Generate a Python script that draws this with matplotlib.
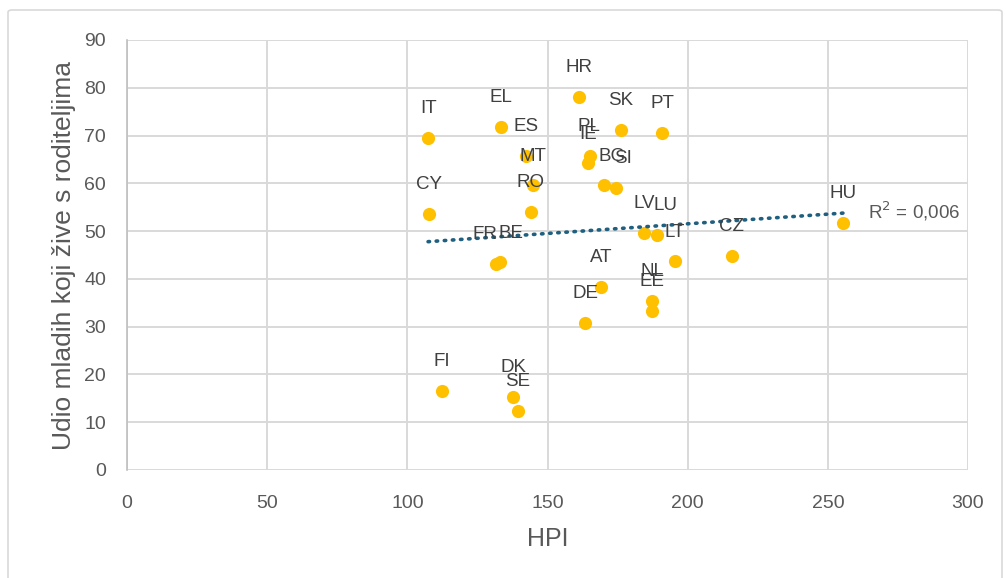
import numpy as np
import matplotlib
matplotlib.use("Agg")
import matplotlib.pyplot as plt
from matplotlib.patches import FancyBboxPatch

plt.rcParams['font.family'] = ['Liberation Sans', 'DejaVu Sans']

countries = ["IT", "EL", "ES", "MT", "RO", "HR", "SK", "PT", "PL", "IE", "BG", "SI",
             "CY", "LV", "LU", "LT", "FR", "BE", "AT", "DE", "NL", "EE", "CZ", "HU",
             "FI", "DK", "SE"]
hpi = [107.4, 133.4, 142.4, 144.8, 144.1, 161.2, 176.2, 190.9, 165.2, 164.5, 170.2, 174.5,
       107.7, 184.5, 189.1, 195.5, 131.8, 133.1, 169.1, 163.4, 187.3, 187.3, 215.8, 255.4,
       112.3, 137.7, 139.5]
share = [69.5, 71.8, 65.7, 59.6, 54.0, 78.1, 71.2, 70.5, 65.7, 64.2, 59.6, 59.0,
         53.6, 49.6, 49.2, 43.7, 43.2, 43.5, 38.3, 30.8, 35.4, 33.3, 44.8, 51.7,
         16.6, 15.3, 12.4]
r2_text = "R$^2$ = 0,006"
x_ticks = [0, 50, 100, 150, 200, 250, 300]
y_ticks = [0, 10, 20, 30, 40, 50, 60, 70, 80, 90]

# small horizontal nudges (in points) for labels that were moved in the original
label_dx = {"FR": -8, "BE": 7.5, "BG": 6, "SI": 5, "LU": 6, "PL": -1}

fig = plt.figure(figsize=(10.06, 5.78), dpi=100)
ax = fig.add_axes([127/1006, 1 - 470/578, (968-127)/1006, (470-40)/578])

# figure border
border = FancyBboxPatch((8/1006, -0.05), (1002-8)/1006, 1 - 10/578 + 0.05,
                        boxstyle="round,pad=0,rounding_size=0.004",
                        transform=fig.transFigure, fill=False,
                        edgecolor="#d9d9d9", linewidth=1.2, zorder=0)
fig.patches.append(border)

ax.set_xlim(0, 300)
ax.set_ylim(0, 90)
ax.set_xticks(x_ticks)
ax.set_yticks(y_ticks)
ax.grid(True, color="#d9d9d9", linewidth=1.4)
ax.set_axisbelow(True)
for s in ["top", "right", "bottom"]:
    ax.spines[s].set_visible(False)
ax.spines["left"].set_color("#bfbfbf")
ax.spines["left"].set_linewidth(1.2)
ax.tick_params(length=0, labelsize=14, labelcolor="#595959")
ax.tick_params(axis="x", pad=18)
ax.tick_params(axis="y", pad=15)

x = np.array(hpi)
y = np.array(share)
ax.scatter(x, y, s=90, color="#FFC000", zorder=3, linewidths=0)

# linear trendline
coef = np.polyfit(x, y, 1)
xs = np.array([x.min(), x.max()])
ax.plot(xs, np.polyval(coef, xs), color="#1f5f7f", linewidth=2.6,
        linestyle=(0, (0.4, 1.85)), dash_capstyle="round", zorder=4)

for c, xi, yi in zip(countries, hpi, share):
    ax.annotate(c, (xi, yi), xytext=(label_dx.get(c, 0), 21), textcoords="offset points",
                ha="center", va="center", fontsize=13.5, color="#404040", zorder=5)

ax.text(264.5, 54.2, r2_text, fontsize=13.5, color="#595959", ha="left", va="center")

ax.set_xlabel("HPI", fontsize=18, color="#595959", labelpad=11)
ax.set_ylabel("Udio mladih koji žive s roditeljima", fontsize=19, color="#595959", labelpad=6)

fig.savefig("out.png", dpi=100)
